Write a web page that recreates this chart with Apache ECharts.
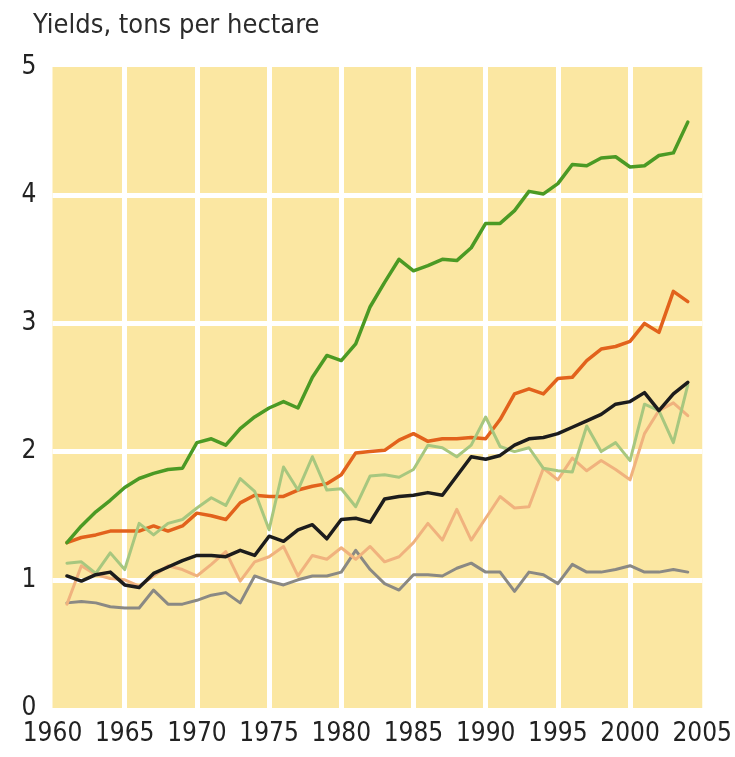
<!DOCTYPE html>
<html>
<head>
<meta charset="utf-8">
<script src="https://cdn.jsdelivr.net/npm/echarts@6/dist/echarts.min.js"></script>
<style>
  html, body { margin: 0; padding: 0; background: #fff; }
  #main { width: 735px; height: 757px; }
</style>
</head>
<body>
<div id="main"></div>
<script>
// years 1961-2004
var years = [];
for (var y = 1961; y <= 2004; y++) years.push(y);

var yieldsGreen = [1.29, 1.42, 1.53, 1.62, 1.72, 1.79, 1.83, 1.86, 1.87, 2.07,
  2.10, 2.05, 2.18, 2.27, 2.34, 2.39, 2.34, 2.58, 2.75, 2.71,
  2.84, 3.13, 3.32, 3.50, 3.41, 3.45, 3.50, 3.49, 3.59, 3.78,
  3.78, 3.88, 4.03, 4.01, 4.09, 4.24, 4.23, 4.29, 4.30, 4.22,
  4.23, 4.31, 4.33, 4.57];
var yieldsOrange = [1.29, 1.33, 1.35, 1.38, 1.38, 1.38, 1.42, 1.38, 1.42, 1.52,
  1.50, 1.47, 1.60, 1.66, 1.65, 1.65, 1.70, 1.73, 1.75, 1.82,
  1.99, 2.00, 2.01, 2.09, 2.14, 2.08, 2.10, 2.10, 2.11, 2.10,
  2.25, 2.45, 2.49, 2.45, 2.57, 2.58, 2.71, 2.80, 2.82, 2.86,
  3.00, 2.93, 3.25, 3.17];
var yieldsLightGreen = [1.13, 1.14, 1.05, 1.21, 1.08, 1.44, 1.35, 1.44, 1.47, 1.56,
  1.64, 1.58, 1.79, 1.69, 1.39, 1.88, 1.70, 1.96, 1.70, 1.71,
  1.57, 1.81, 1.82, 1.80, 1.86, 2.05, 2.03, 1.96, 2.05, 2.27,
  2.04, 2.00, 2.03, 1.87, 1.85, 1.84, 2.20, 2.00, 2.07, 1.93,
  2.37, 2.32, 2.07, 2.52];
var yieldsBlack = [1.03, 0.99, 1.04, 1.06, 0.96, 0.94, 1.05, 1.10, 1.15, 1.19,
  1.19, 1.18, 1.23, 1.19, 1.34, 1.30, 1.39, 1.43, 1.32, 1.47,
  1.48, 1.45, 1.63, 1.65, 1.66, 1.68, 1.66, 1.81, 1.96, 1.94,
  1.97, 2.05, 2.10, 2.11, 2.14, 2.19, 2.24, 2.29, 2.37, 2.39,
  2.46, 2.32, 2.45, 2.54];
var yieldsSalmon = [0.81, 1.11, 1.04, 1.01, 1.00, 0.95, 1.03, 1.11, 1.08, 1.03,
  1.12, 1.22, 0.99, 1.14, 1.18, 1.26, 1.03, 1.19, 1.16, 1.25,
  1.16, 1.26, 1.14, 1.18, 1.29, 1.44, 1.31, 1.55, 1.31, 1.48,
  1.65, 1.56, 1.57, 1.87, 1.78, 1.95, 1.85, 1.93, 1.86, 1.78,
  2.14, 2.32, 2.38, 2.28];
var yieldsGray = [0.82, 0.83, 0.82, 0.79, 0.78, 0.78, 0.92, 0.81, 0.81, 0.84,
  0.88, 0.90, 0.82, 1.03, 0.99, 0.96, 1.00, 1.03, 1.03, 1.06,
  1.23, 1.08, 0.97, 0.92, 1.04, 1.04, 1.03, 1.09, 1.13, 1.06,
  1.06, 0.91, 1.06, 1.04, 0.97, 1.12, 1.06, 1.06, 1.08, 1.11,
  1.06, 1.06, 1.08, 1.06];

function pairs(vals) {
  return years.map(function (yr, i) { return [yr, vals[i]]; });
}

var labelFont = '"Liberation Sans Narrow", "DejaVu Sans Condensed", sans-serif';

function line(name, vals, color, width) {
  return {
    name: name,
    type: 'line',
    data: pairs(vals),
    symbol: 'none',
    silent: true,
    lineStyle: { color: color, width: width, join: 'round', cap: 'round' }
  };
}

var chart = echarts.init(document.getElementById('main'));
chart.setOption({
  animation: false,
  title: {
    text: 'Yields, tons per hectare',
    left: 28,
    top: 7,
    textStyle: { fontFamily: labelFont, fontSize: 27, fontWeight: 'normal', color: '#2b2b2b' }
  },
  grid: {
    left: 52.5,
    right: 32,
    top: 67,
    bottom: 49,
    show: true,
    backgroundColor: '#fbe7a2',
    borderWidth: 0
  },
  xAxis: {
    type: 'value',
    min: 1960,
    max: 2005,
    interval: 5,
    axisLine: { show: false },
    axisTick: { show: false },
    axisLabel: {
      margin: 13,
      fontFamily: labelFont,
      fontSize: 26,
      color: '#222',
      formatter: function (v) { return String(v); }
    },
    splitLine: { show: true, showMinLine: false, showMaxLine: false, lineStyle: { color: '#ffffff', width: 5 } }
  },
  yAxis: {
    type: 'value',
    min: 0,
    max: 5,
    interval: 1,
    axisLine: { show: false },
    axisTick: { show: false },
    axisLabel: {
      margin: 16,
      fontFamily: labelFont,
      fontSize: 26,
      color: '#222'
    },
    splitLine: { show: true, showMinLine: false, showMaxLine: false, lineStyle: { color: '#ffffff', width: 5 } }
  },
  series: [
    line('gray', yieldsGray, '#8a8984', 3),
    line('salmon', yieldsSalmon, '#f0b27e', 3),
    line('orange', yieldsOrange, '#e2621c', 3.5),
    line('lightgreen', yieldsLightGreen, '#a7c77f', 3),
    line('black', yieldsBlack, '#1c1c1c', 3.5),
    line('green', yieldsGreen, '#4b9a24', 3.5)
  ]
});
</script>
</body>
</html>
